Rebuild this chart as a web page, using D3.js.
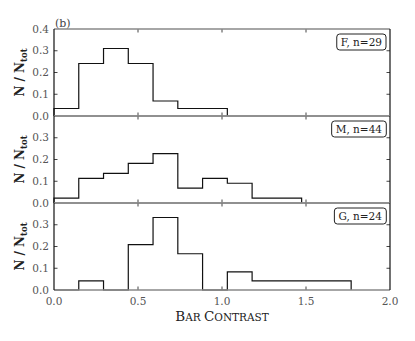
<!DOCTYPE html>
<html>
<head>
<meta charset="utf-8">
<script src="https://cdn.jsdelivr.net/npm/d3@7"></script>
<style>
  body { margin: 0; background: #fff; }
  svg { display: block; }
  text { font-family: "DejaVu Serif", "Liberation Serif", serif; fill: #333; }
</style>
</head>
<body>
<div id="chart_area"></div>
<script>
// histogram data (counts per bin)
var binWidth = 0.1474;
var panelNames = ["F, n=29", "M, n=44", "G, n=24"];
var panelTotals = [29, 44, 24];
var fCounts = [1, 7, 9, 7, 2, 1, 1];
var mCounts = [1, 5, 6, 8, 10, 3, 5, 4, 1, 1];
var gCounts = [0, 1, 0, 5, 8, 4, 0, 2, 1, 1, 1, 1];
var xTicks = [0, 0.5, 1.0, 1.5, 2.0];
var yTicks = [0, 0.1, 0.2, 0.3, 0.4];

var allCounts = [fCounts, mCounts, gCounts];

var margin = { top: 29, right: 25, bottom: 51, left: 54 },
    width = 415,
    height = 341,
    innerW = width - margin.left - margin.right,
    panelH = (height - margin.top - margin.bottom) / 3;

var svg = d3.select("#chart_area")
    .append("svg")
    .attr("width", width)
    .attr("height", height);

var x = d3.scaleLinear().domain([0, 2]).range([margin.left, margin.left + innerW]);

allCounts.forEach(function (counts, p) {
    var top = margin.top + p * panelH;
    var y = d3.scaleLinear().domain([0, 0.4]).range([top + panelH, top]);
    var g = svg.append("g").attr("class", "panel");

    // step outline
    var pts = [[0, 0]];
    counts.forEach(function (c, i) {
        var v = c / panelTotals[p];
        pts.push([i * binWidth, v]);
        pts.push([(i + 1) * binWidth, v]);
    });
    pts.push([counts.length * binWidth, 0]);

    var line = d3.line()
        .x(function (d) { return x(d[0]); })
        .y(function (d) { return y(d[1]); });

    g.append("path")
        .datum(pts)
        .attr("d", line)
        .style("fill", "none")
        .style("stroke", "#111")
        .style("stroke-width", 1.2);

    // ticks (inward), all four sides
    var tl = 3.5;
    xTicks.slice(1, -1).forEach(function (t) {
        g.append("line").attr("x1", x(t)).attr("x2", x(t))
            .attr("y1", top + panelH).attr("y2", top + panelH - tl)
            .style("stroke", "#444").style("stroke-width", 1);
        g.append("line").attr("x1", x(t)).attr("x2", x(t))
            .attr("y1", top).attr("y2", top + tl)
            .style("stroke", "#444").style("stroke-width", 1);
    });
    yTicks.slice(1, -1).forEach(function (t) {
        g.append("line").attr("x1", x(0)).attr("x2", x(0) + tl)
            .attr("y1", y(t)).attr("y2", y(t))
            .style("stroke", "#444").style("stroke-width", 1);
        g.append("line").attr("x1", x(2)).attr("x2", x(2) - tl)
            .attr("y1", y(t)).attr("y2", y(t))
            .style("stroke", "#444").style("stroke-width", 1);
    });

    // y tick labels (0.4 only on top panel)
    yTicks.forEach(function (t) {
        if (t === 0.4 && p > 0) return;
        g.append("text")
            .attr("x", x(0) - 5)
            .attr("y", y(t))
            .attr("dy", "0.35em")
            .attr("text-anchor", "end")
            .style("font-size", "10.5px")
            .style("fill", "#555")
            .text(d3.format(".1f")(t));
    });

    // spines
    g.append("line").attr("x1", x(0)).attr("x2", x(2)).attr("y1", top).attr("y2", top)
        .style("stroke", "#888").style("stroke-width", 1.4);
    g.append("line").attr("x1", x(0)).attr("x2", x(2)).attr("y1", top + panelH).attr("y2", top + panelH)
        .style("stroke", "#888").style("stroke-width", 1.4);
    g.append("line").attr("x1", x(0)).attr("x2", x(0)).attr("y1", top).attr("y2", top + panelH)
        .style("stroke", "#111").style("stroke-width", 1.2);
    g.append("line").attr("x1", x(2)).attr("x2", x(2)).attr("y1", top).attr("y2", top + panelH)
        .style("stroke", "#111").style("stroke-width", 1.2);

    // legend box
    var lab = g.append("text")
        .attr("x", x(2) - 8)
        .attr("y", top + 17)
        .attr("text-anchor", "end")
        .style("font-size", "10.5px")
        .style("fill", "#222")
        .text(panelNames[p]);
    var bb = lab.node().getBBox();
    g.insert("rect", "text")
        .attr("x", bb.x - 4).attr("y", bb.y - 2)
        .attr("width", bb.width + 8).attr("height", bb.height + 4)
        .attr("rx", 3).attr("ry", 3)
        .style("fill", "#fff").style("stroke", "#222").style("stroke-width", 1);

    // y axis label
    var yl = g.append("text")
        .attr("transform", "translate(24," + (top + panelH / 2) + ") rotate(-90)")
        .attr("text-anchor", "middle")
        .style("font-size", "12px")
        .style("font-weight", "bold")
        .style("fill", "#222");
    yl.append("tspan").text("N / N");
    yl.append("tspan").attr("dy", 3).style("font-size", "8.5px").text("tot");
});

// x tick labels on bottom panel
var bottom = margin.top + 3 * panelH;
xTicks.forEach(function (t) {
    svg.append("text")
        .attr("x", x(t))
        .attr("y", bottom + 15)
        .attr("text-anchor", "middle")
        .style("font-size", "10.5px")
        .style("fill", "#555")
        .text(d3.format(".1f")(t));
});

// x label in small caps, built by hand
var xl = svg.append("text")
    .attr("x", x(1))
    .attr("y", bottom + 31)
    .attr("text-anchor", "middle")
    .style("font-size", "13.5px")
    .style("fill", "#222");
[["B", 13.5], ["AR ", 10.5], ["C", 13.5], ["ONTRAST", 10.5]].forEach(function (s) {
    xl.append("tspan").style("font-size", s[1] + "px").text(s[0]);
});

svg.append("text")
    .attr("x", x(0) + 1)
    .attr("y", margin.top - 2)
    .style("font-size", "11px")
    .style("fill", "#444")
    .text("(b)");
</script>
</body>
</html>
